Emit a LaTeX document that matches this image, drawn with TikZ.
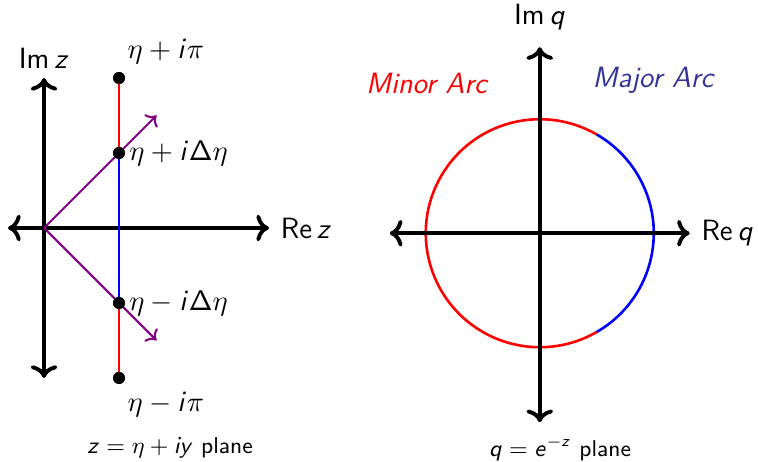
\documentclass[tikz,border=0pt]{standalone}
\usepackage{tikz}
\usetikzlibrary{arrows.meta, positioning}
% sans letters in math, as on slides
\DeclareSymbolFont{sfops}{OT1}{cmss}{m}{n}
\DeclareSymbolFont{sfslant}{OT1}{cmss}{m}{sl}
\DeclareMathSymbol{z}{\mathalpha}{sfslant}{`z}
\DeclareMathSymbol{q}{\mathalpha}{sfslant}{`q}
\DeclareMathSymbol{i}{\mathalpha}{sfslant}{`i}
\DeclareMathSymbol{y}{\mathalpha}{sfslant}{`y}
\DeclareMathSymbol{e}{\mathalpha}{sfslant}{`e}
\DeclareMathSymbol{\Delta}{\mathord}{sfops}{"01}
\definecolor{majorcol}{RGB}{51,51,153}
\tikzstyle{axis}    = [line width=1.5pt,<->]
\tikzstyle{dot}     = [circle, fill=black, inner sep=0pt, minimum size=4.6pt]
\tikzstyle{seg}     = [line width=1pt]
\tikzstyle{ray}     = [violet, line width=0.8pt, ->]
\tikzstyle{caption} = [font=\fontsize{8.8}{10}\sffamily]

\begin{document}
\begin{tikzpicture}[x=1.016cm, y=1.016cm, font=\fontsize{11.3}{13}\sffamily]
  \useasboundingbox (-0.587,-3.107) rectangle (9.52,3.04);

  % z plane
  \coordinate (zo) at (0,0);
  \coordinate (zl) at (-0.48,0);
  \coordinate (zr) at (3.0,0);
  \coordinate (zt) at (0,2);
  \coordinate (zb) at (0,-2);
  \coordinate (rup) at (1.5,1.5);
  \coordinate (rdn) at (1.5,-1.5);
  \draw[axis] (zl) -- (zr);
  \draw[axis] (zb) -- (zt);
  \node[above=0pt of zt] (imz) {Im\,$z$};
  \node[right=1pt of zr] (rez) {Re\,$z$};

  \node[dot] (pt) at (1,2) {};
  \node[dot] (pu) at (1,1) {};
  \node[dot] (pd) at (1,-1) {};
  \node[dot] (pb) at (1,-2) {};
  \draw[seg, red]  (pt.center) -- (pu.center);
  \draw[seg, blue] (pu.center) -- (pd.center);
  \draw[seg, red]  (pd.center) -- (pb.center);
  \draw[ray] (zo) -- (rup);
  \draw[ray] (zo) -- (rdn);
  \node[dot] at (pt) {};
  \node[dot] at (pu) {};
  \node[dot] at (pd) {};
  \node[dot] at (pb) {};

  \node[above right=0pt and -2pt of pt] (lt) {$\eta + i\pi$};
  \node[right=-2pt of pu] (lu) {$\eta + i\Delta\eta$};
  \node[right=-2pt of pd] (ld) {$\eta - i\Delta\eta$};
  \node[below right=0pt and -2pt of pb] (lb) {$\eta - i\pi$};
  \node[caption] (zcap) at (1.68,-2.93) {$z = \eta + iy$ plane};

  % q plane
  \coordinate (qo) at (6.61,-0.07);
  \coordinate (ql) at (4.61,-0.07);
  \coordinate (qr) at (8.61,-0.07);
  \coordinate (qt) at (6.61,2.41);
  \coordinate (qb) at (6.61,-2.59);
  \draw[seg, red] (qo) ++(60:1.52) arc[start angle=60, end angle=300, radius=1.52];
  \draw[seg, blue] (qo) ++(-60:1.52) arc[start angle=-60, end angle=60, radius=1.52];
  \draw[axis] (ql) -- (qr);
  \draw[axis] (qb) -- (qt);
  \node[above=3pt of qt] (imq) {Im\,$q$};
  \node[right=1pt of qr] (req) {Re\,$q$};
  \node[red, font=\fontsize{11.3}{13}\sffamily\itshape] (minor) at (5.10,1.93) {Minor Arc};
  \node[majorcol, font=\fontsize{11.3}{13}\sffamily\itshape] (major) at (8.12,1.97) {Major Arc};
  \node[caption] (qcap) at (6.88,-2.94) {$q = e^{-z}$ plane};
\end{tikzpicture}
\end{document}
